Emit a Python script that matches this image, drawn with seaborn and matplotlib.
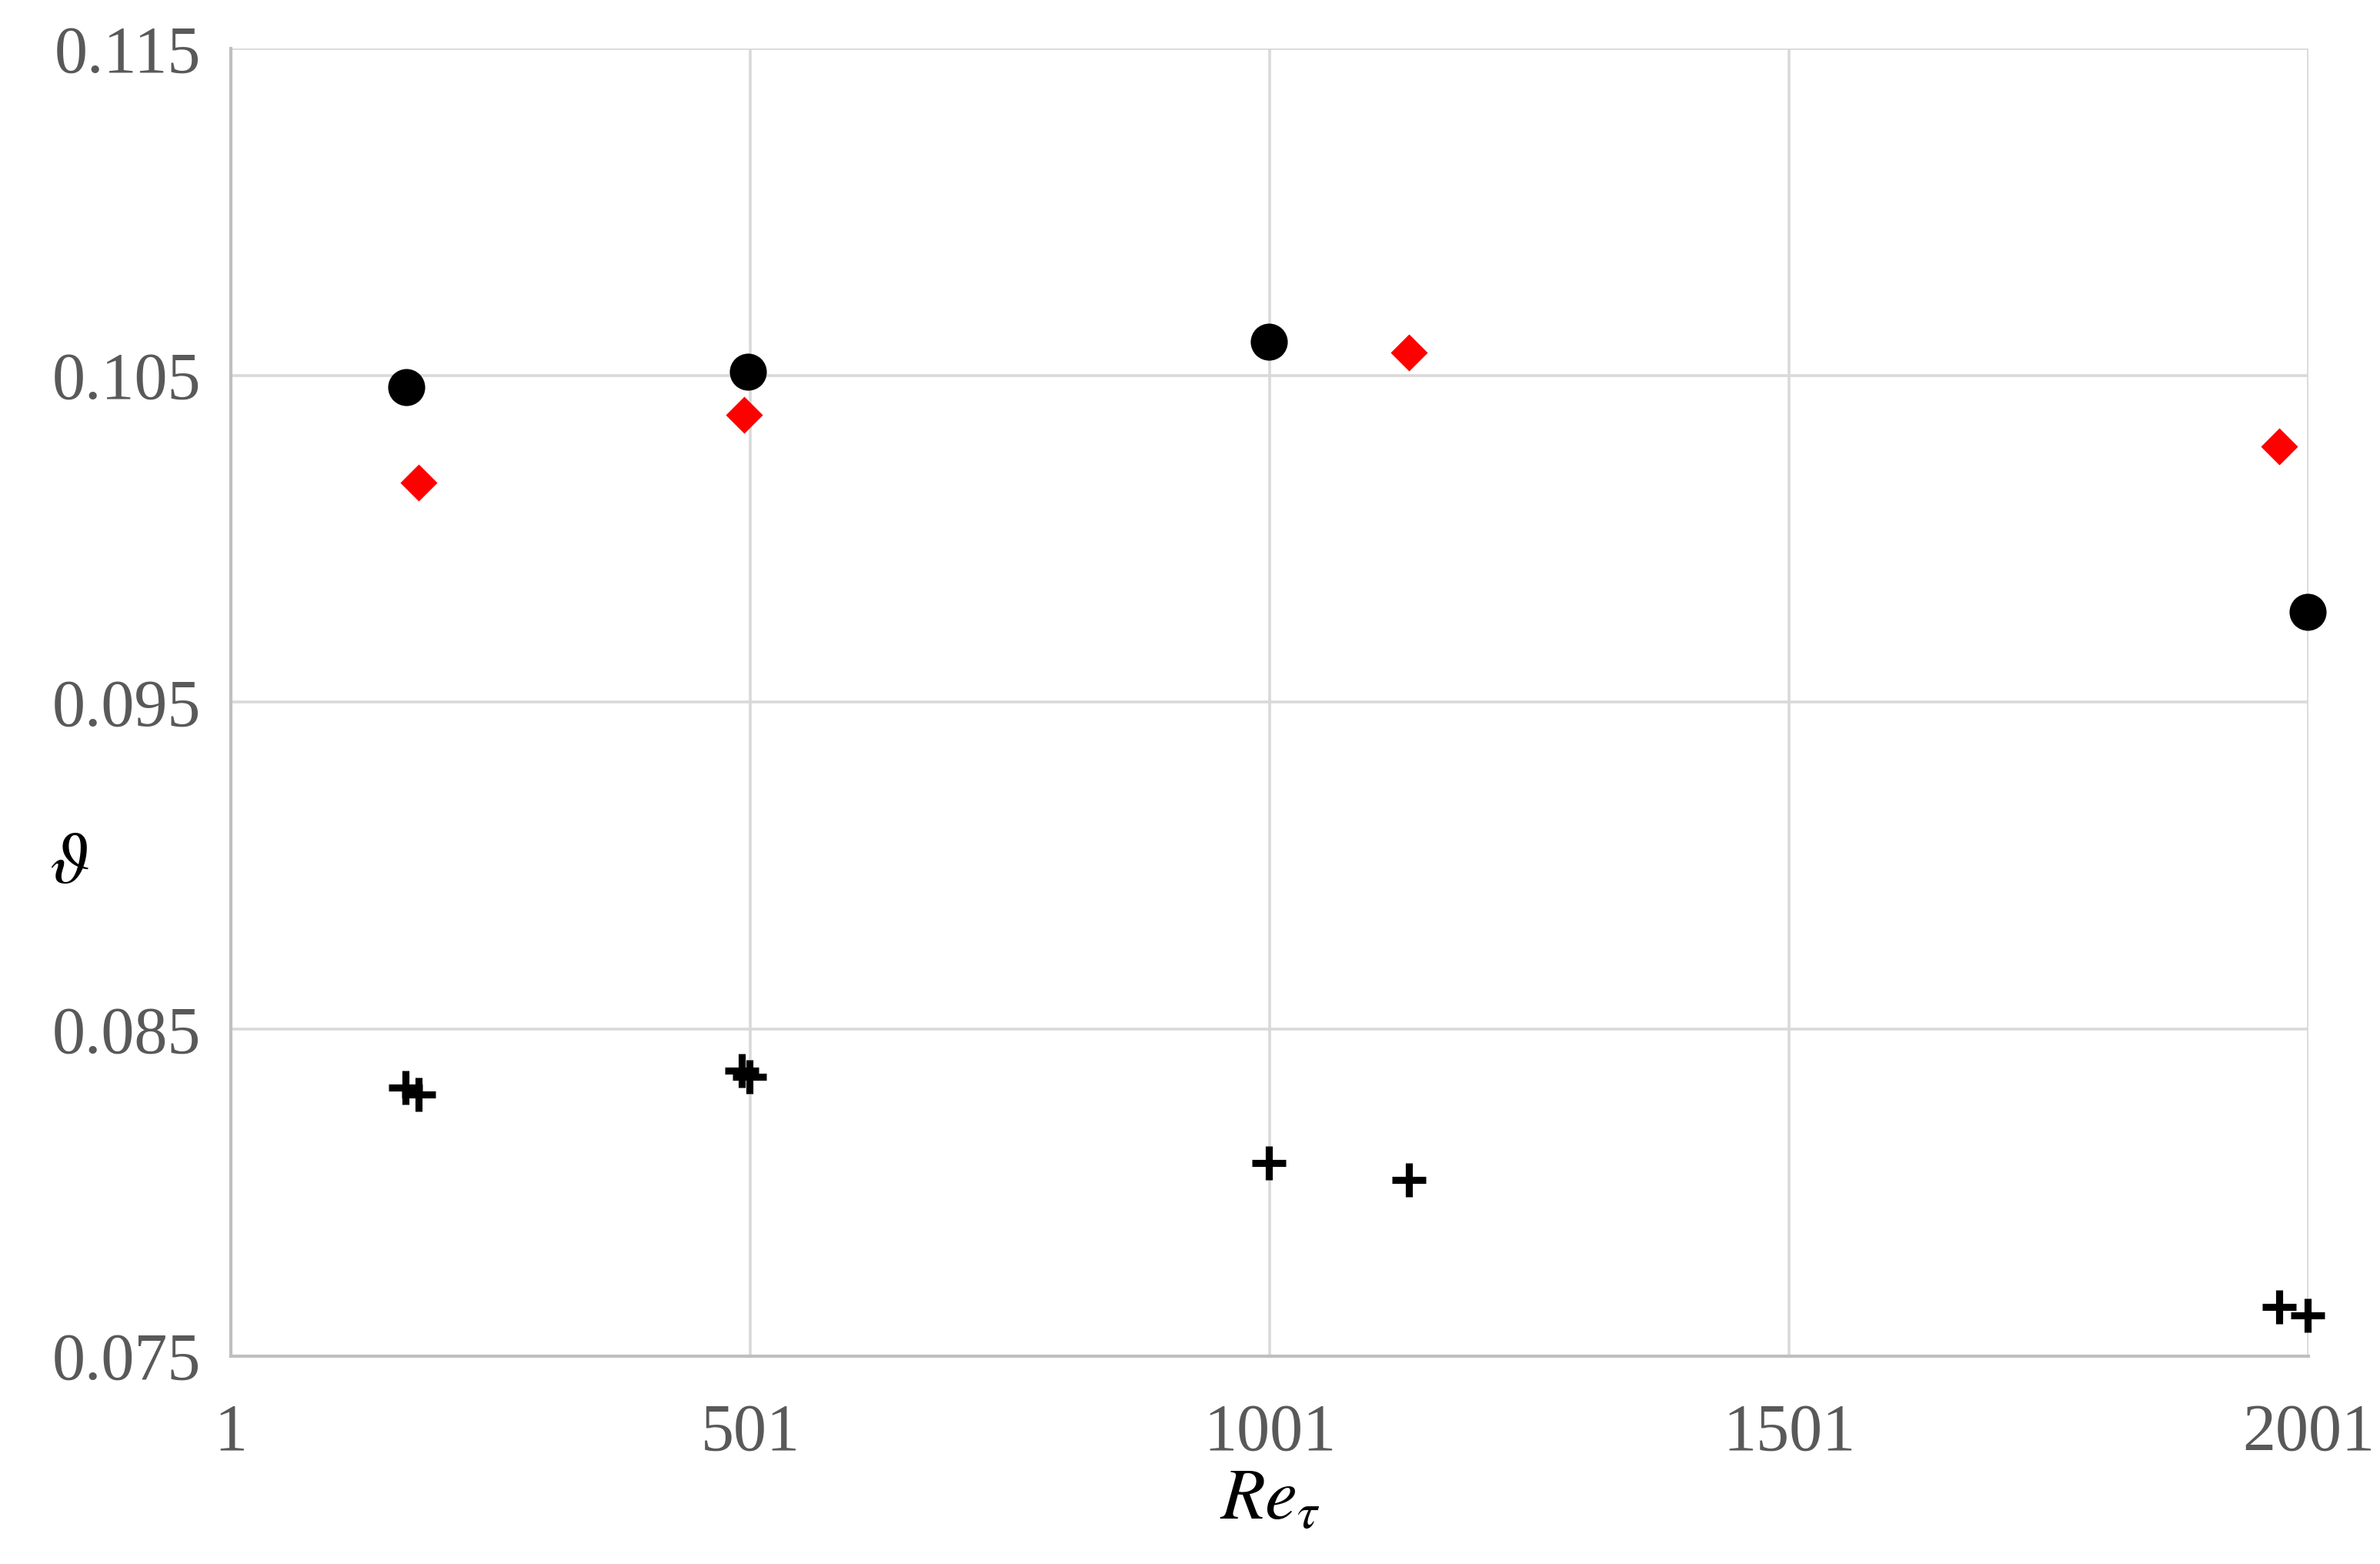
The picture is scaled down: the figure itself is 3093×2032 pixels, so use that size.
import matplotlib
matplotlib.use("Agg")
import matplotlib.pyplot as plt
import seaborn as sns
import pandas as pd

# Data
circle_x = [170, 499, 1000, 2000]
circle_y = [0.10464, 0.10510, 0.10603, 0.09776]

diamond_x = [182, 495, 1135, 1973]
diamond_y = [0.10171, 0.10380, 0.10571, 0.10283]

plus_x = [169, 182, 493, 500, 1000, 1135, 1973, 2000]
plus_y = [0.08322, 0.08299, 0.08373, 0.08355, 0.08090, 0.08039, 0.07649, 0.07625]

x_ticks = [1, 501, 1001, 1501, 2001]
y_ticks = [0.075, 0.085, 0.095, 0.105, 0.115]

sns.set_theme(style="white")
plt.rcParams['font.family'] = ['Liberation Serif', 'DejaVu Serif']
plt.rcParams['mathtext.fontset'] = 'stix'

fig = plt.figure(figsize=(15.465, 10.16), dpi=200)
ax = fig.add_axes([0.097, 0.133, 0.873, 0.836])

df_c = pd.DataFrame({"x": circle_x, "y": circle_y})
df_d = pd.DataFrame({"x": diamond_x, "y": diamond_y})
df_p = pd.DataFrame({"x": plus_x, "y": plus_y})

sns.scatterplot(data=df_c, x="x", y="y", ax=ax, marker="o", s=300,
                color="black", edgecolor="black", linewidth=0, zorder=3,
                clip_on=False)
sns.scatterplot(data=df_d, x="x", y="y", ax=ax, marker="D", s=150,
                color="#FF0000", edgecolor="#FF0000", linewidth=0, zorder=3,
                clip_on=False)
sns.scatterplot(data=df_p, x="x", y="y", ax=ax, marker="+", s=260,
                color="black", linewidth=3.3, zorder=3, clip_on=False)

ax.set_xlim(1, 2001)
ax.set_ylim(0.075, 0.115)
ax.set_xticks(x_ticks)
ax.set_xticklabels([str(v) for v in x_ticks])
ax.set_yticks(y_ticks)
ax.set_yticklabels([f"{v:.3f}" for v in y_ticks])

ax.grid(True, color="#D9D9D9", linewidth=1.3)
ax.set_axisbelow(True)
for side in ["top", "right"]:
    ax.spines[side].set_visible(False)
for side in ["left", "bottom"]:
    ax.spines[side].set_color("#BFBFBF")
    ax.spines[side].set_linewidth(1.5)

ax.tick_params(axis="both", length=0, labelsize=31, labelcolor="#595959")
ax.tick_params(axis="x", pad=22)
ax.tick_params(axis="y", pad=14)

ax.set_xlabel(r"$Re_{\tau}$", fontsize=34, color="black", labelpad=2)
ax.set_ylabel(r"$\vartheta$", fontsize=34, color="black", rotation=0,
              va="center", ha="center")
ax.yaxis.set_label_coords(-0.078, 0.375)

fig.savefig("out.png", dpi=200, facecolor="white")
